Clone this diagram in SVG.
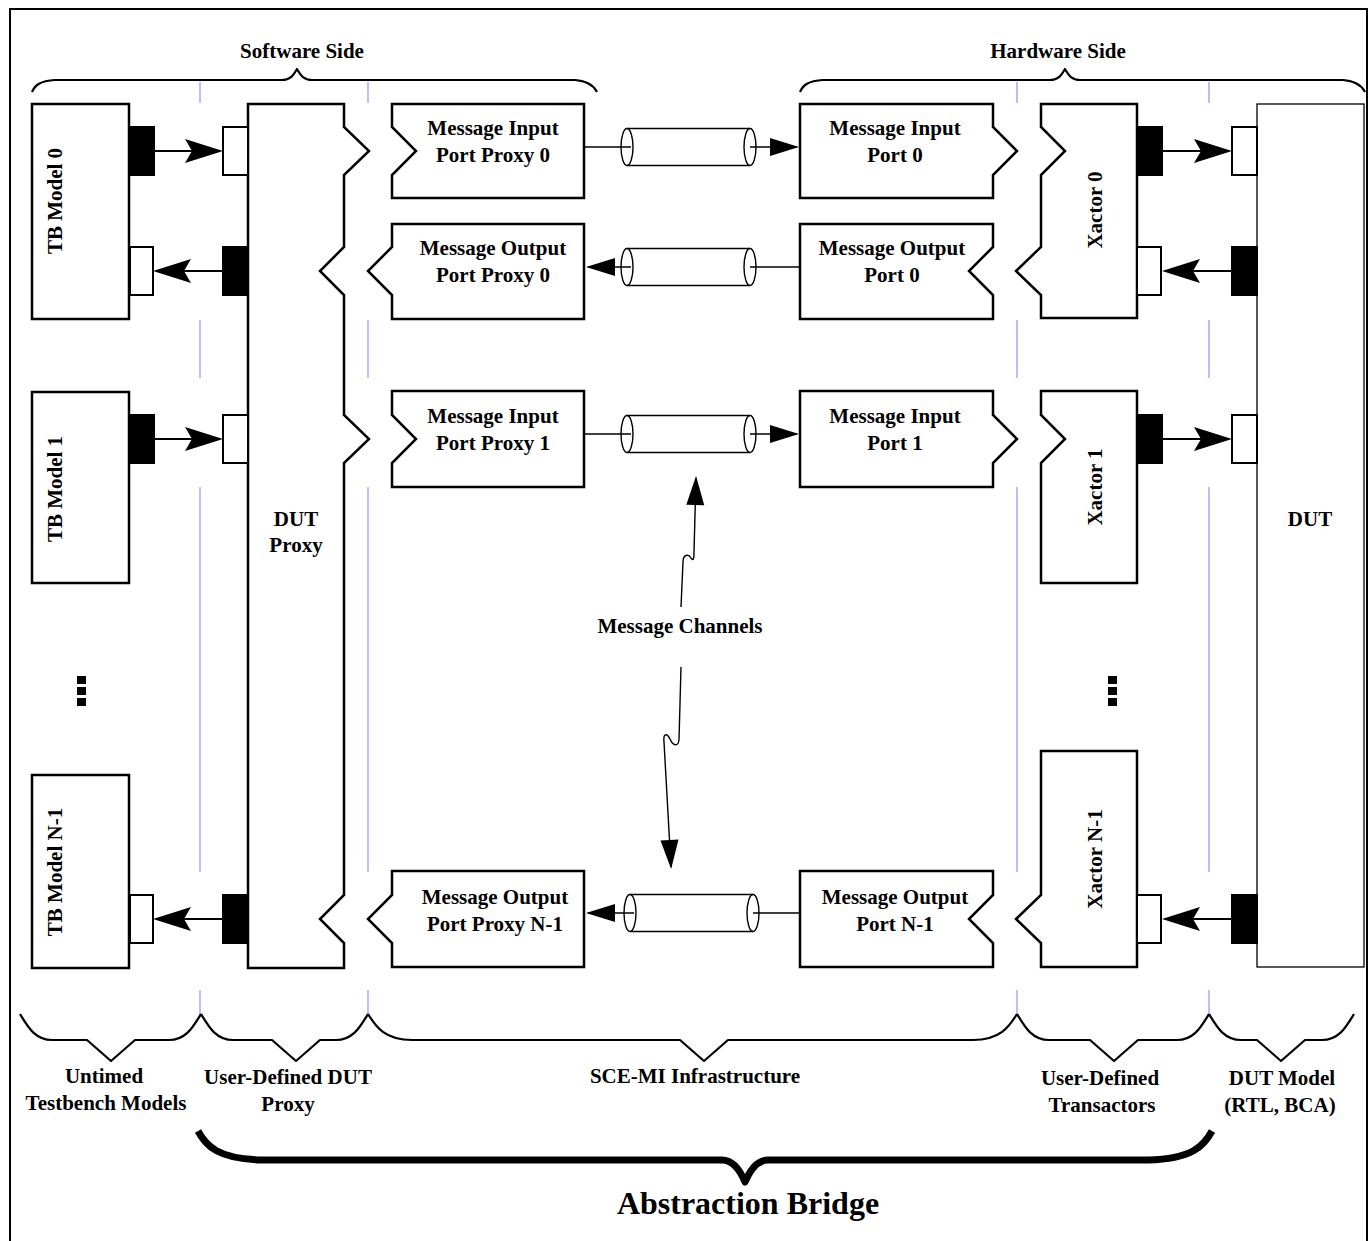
<svg xmlns="http://www.w3.org/2000/svg" width="1370" height="1241" viewBox="0 0 1370 1241">
  <style>
    .frame { fill: none; stroke: #000; stroke-width: 2; }
    .box { fill: #fff; stroke: #000; stroke-width: 2.5; }
    .thin { fill: #fff; stroke: #000; stroke-width: 1.3; }
    .pin { fill: #fff; stroke: #000; stroke-width: 2; }
    .pout { fill: #000; stroke: #000; stroke-width: 2; }
    .wire { fill: none; stroke: #000; stroke-width: 2; }
    .chan { fill: none; stroke: #000; stroke-width: 1.4; }
    .sep { stroke: #7b7bff; stroke-width: 1; }
    .brace { fill: none; stroke: #000; stroke-width: 2.2; stroke-linejoin: round; }
    .bigbrace { fill: none; stroke: #000; stroke-width: 7; stroke-linejoin: round; }
    .dot { fill: #000; }
    text { font-family: "Liberation Serif", "Times New Roman", serif; font-weight: bold; font-size: 21px; fill: #000; text-anchor: middle; }
    .title { font-size: 32px; }
  </style>
  <defs>
    <marker id="bigArrow" markerUnits="userSpaceOnUse" viewBox="-36 -13 42 26" refX="0" refY="0" markerWidth="42" markerHeight="26" orient="auto">
      <path d="M4,0 L-34,-12 L-27,0 L-34,12 Z" fill="#000"/>
    </marker>
    <marker id="smallArrow" markerUnits="userSpaceOnUse" viewBox="-28 -10 32 20" refX="0" refY="0" markerWidth="32" markerHeight="20" orient="auto">
      <path d="M2,0 L-27,-9 L-27,9 Z" fill="#000"/>
    </marker>
    <g id="cyl">
      <line x1="0" y1="-18.5" x2="123" y2="-18.5" class="chan"/>
      <line x1="0" y1="18.5" x2="123" y2="18.5" class="chan"/>
      <ellipse cx="0" cy="0" rx="6" ry="18.5" class="chan"/>
      <ellipse cx="123" cy="0" rx="6" ry="18.5" class="chan"/>
    </g>
  </defs>

  <rect class="frame" x="10" y="9" width="1357" height="1245"/>

  <!-- layer separators -->
  <g id="separators">
    <line class="sep" x1="200" y1="82" x2="200" y2="103"/>
    <line class="sep" x1="200" y1="320" x2="200" y2="378"/>
    <line class="sep" x1="200" y1="487" x2="200" y2="872"/>
    <line class="sep" x1="200" y1="990" x2="200" y2="1015"/>
    <line class="sep" x1="368" y1="82" x2="368" y2="103"/>
    <line class="sep" x1="368" y1="320" x2="368" y2="378"/>
    <line class="sep" x1="368" y1="487" x2="368" y2="872"/>
    <line class="sep" x1="368" y1="990" x2="368" y2="1015"/>
    <line class="sep" x1="1017" y1="82" x2="1017" y2="103"/>
    <line class="sep" x1="1017" y1="320" x2="1017" y2="378"/>
    <line class="sep" x1="1017" y1="487" x2="1017" y2="872"/>
    <line class="sep" x1="1017" y1="990" x2="1017" y2="1015"/>
    <line class="sep" x1="1209" y1="82" x2="1209" y2="103"/>
    <line class="sep" x1="1209" y1="320" x2="1209" y2="378"/>
    <line class="sep" x1="1209" y1="487" x2="1209" y2="872"/>
    <line class="sep" x1="1209" y1="990" x2="1209" y2="1015"/>
  </g>

  <!-- side braces -->
  <g id="top-braces">
    <path class="brace" d="M32,92 C35,85 40,81 55,80 L282,80 C290,80 293,76 297,69 C301,76 304,80 312,80 L575,80 C588,81 594,86 597,92"/>
    <text x="302" y="58">Software Side</text>
    <path class="brace" d="M800,92 C803,85 808,81 823,80 L1050,80 C1058,80 1061,76 1065,69 C1069,76 1072,80 1080,80 L1343,80 C1356,81 1362,86 1365,92"/>
    <text x="1058" y="58">Hardware Side</text>
  </g>

  <!-- layer braces -->
  <g id="bottom-braces">
    <path class="brace" d="M20,1014 C28,1027 35,1040 52,1040 L87,1040 L111,1061 L135,1040 L169,1040 C186,1040 193,1027 201,1014"/>
    <path class="brace" d="M201,1014 C209,1027 216,1040 233,1040 L272,1040 L296,1061 L320,1040 L336,1040 C353,1040 360,1027 368,1014"/>
    <path class="brace" d="M368,1014 C376,1027 385,1040 412,1040 L680,1040 L704,1061 L728,1040 L973,1040 C1000,1040 1009,1027 1017,1014"/>
    <path class="brace" d="M1017,1014 C1025,1027 1032,1040 1049,1040 L1090,1040 L1114,1061 L1138,1040 L1177,1040 C1194,1040 1201,1027 1209,1014"/>
    <path class="brace" d="M1209,1014 C1217,1027 1224,1040 1241,1040 L1257,1040 L1281,1061 L1305,1040 L1322,1040 C1339,1040 1346,1027 1354,1014"/>
    <text x="104" y="1083">Untimed</text>
    <text x="106" y="1110">Testbench Models</text>
    <text x="288" y="1084">User-Defined DUT</text>
    <text x="288" y="1111">Proxy</text>
    <text x="695" y="1083">SCE-MI Infrastructure</text>
    <text x="1100" y="1085">User-Defined</text>
    <text x="1102" y="1112">Transactors</text>
    <text x="1282" y="1085">DUT Model</text>
    <text x="1280" y="1112">(RTL, BCA)</text>
    <path class="bigbrace" d="M198,1131 C206,1146 218,1159 262,1160 L722,1160 C732,1160 740,1170 745,1182 C750,1170 758,1160 768,1160 L1148,1160 C1192,1159 1204,1146 1212,1131"/>
    <text class="title" x="748" y="1214">Abstraction Bridge</text>
  </g>

  <!-- testbench models -->
  <g id="tb-model-0">
    <rect class="box" x="32" y="104" width="97" height="215"/>
    <rect class="pout" x="130" y="127" width="24" height="48"/>
    <rect class="pin" x="130" y="247" width="23" height="48"/>
    <text transform="translate(62,201) rotate(-90)">TB Model 0</text>
  </g>
  <g id="tb-model-1">
    <rect class="box" x="32" y="392" width="97" height="191"/>
    <rect class="pout" x="130" y="415" width="24" height="48"/>
    <text transform="translate(62,489) rotate(-90)">TB Model 1</text>
  </g>
  <g id="tb-ellipsis">
    <rect class="dot" x="77" y="676" width="9" height="8"/>
    <rect class="dot" x="77" y="687" width="9" height="8"/>
    <rect class="dot" x="77" y="698" width="9" height="8"/>
  </g>
  <g id="tb-model-n1">
    <rect class="box" x="32" y="775" width="97" height="193"/>
    <rect class="pin" x="130" y="895" width="23" height="48"/>
    <text transform="translate(62,872) rotate(-90)">TB Model N-1</text>
  </g>

  <!-- DUT proxy -->
  <g id="dut-proxy">
    <path class="box" d="M248,104 L344,104 L344,127 L369,151 L344,175 L344,247 L320,271 L344,295 L344,415 L369,439 L344,463 L344,895 L320,919 L344,943 L344,968 L248,968 Z"/>
    <rect class="pin" x="223" y="127" width="25" height="48"/>
    <rect class="pout" x="223" y="247" width="25" height="48"/>
    <rect class="pin" x="223" y="415" width="25" height="48"/>
    <rect class="pout" x="223" y="895" width="25" height="48"/>
    <text x="296" y="526">DUT</text>
    <text x="296" y="552">Proxy</text>
  </g>

  <!-- software-side message port proxies -->
  <g id="msg-in-proxy-0">
    <path class="box" d="M392,104 L584,104 L584,198 L392,198 L392,175 L416,151 L392,127 Z"/>
    <text x="493" y="135">Message Input</text>
    <text x="493" y="162">Port Proxy 0</text>
  </g>
  <g id="msg-out-proxy-0">
    <path class="box" d="M392,224 L584,224 L584,319 L392,319 L392,295 L368,271 L392,247 Z"/>
    <text x="493" y="255">Message Output</text>
    <text x="493" y="282">Port Proxy 0</text>
  </g>
  <g id="msg-in-proxy-1">
    <path class="box" d="M392,391 L584,391 L584,487 L392,487 L392,463 L416,439 L392,415 Z"/>
    <text x="493" y="423">Message Input</text>
    <text x="493" y="450">Port Proxy 1</text>
  </g>
  <g id="msg-out-proxy-n1">
    <path class="box" d="M392,871 L584,871 L584,967 L392,967 L392,943 L368,919 L392,895 Z"/>
    <text x="495" y="904">Message Output</text>
    <text x="495" y="931">Port Proxy N-1</text>
  </g>

  <!-- hardware-side message ports -->
  <g id="msg-in-port-0">
    <path class="box" d="M800,104 L993,104 L993,127 L1017,151 L993,175 L993,198 L800,198 Z"/>
    <text x="895" y="135">Message Input</text>
    <text x="895" y="162">Port 0</text>
  </g>
  <g id="msg-out-port-0">
    <path class="box" d="M800,224 L993,224 L993,247 L969,271 L993,295 L993,319 L800,319 Z"/>
    <text x="892" y="255">Message Output</text>
    <text x="892" y="282">Port 0</text>
  </g>
  <g id="msg-in-port-1">
    <path class="box" d="M800,391 L993,391 L993,415 L1017,439 L993,463 L993,487 L800,487 Z"/>
    <text x="895" y="423">Message Input</text>
    <text x="895" y="450">Port 1</text>
  </g>
  <g id="msg-out-port-n1">
    <path class="box" d="M800,871 L993,871 L993,895 L969,919 L993,943 L993,967 L800,967 Z"/>
    <text x="895" y="904">Message Output</text>
    <text x="895" y="931">Port N-1</text>
  </g>

  <!-- transactors -->
  <g id="xactor-0">
    <path class="box" d="M1041,104 L1137,104 L1137,318 L1041,318 L1041,295 L1016,271 L1041,247 L1041,175 L1065,151 L1041,127 Z"/>
    <rect class="pout" x="1137" y="127" width="25" height="48"/>
    <rect class="pin" x="1137" y="247" width="24" height="48"/>
    <text transform="translate(1102,210) rotate(-90)">Xactor 0</text>
  </g>
  <g id="xactor-1">
    <path class="box" d="M1041,391 L1137,391 L1137,583 L1041,583 L1041,463 L1065,439 L1041,415 Z"/>
    <rect class="pout" x="1137" y="415" width="25" height="48"/>
    <text transform="translate(1102,487) rotate(-90)">Xactor 1</text>
  </g>
  <g id="xactor-ellipsis">
    <rect class="dot" x="1108" y="676" width="9" height="8"/>
    <rect class="dot" x="1108" y="687" width="9" height="8"/>
    <rect class="dot" x="1108" y="698" width="9" height="8"/>
  </g>
  <g id="xactor-n1">
    <path class="box" d="M1041,751 L1137,751 L1137,967 L1041,967 L1041,943 L1016,919 L1041,895 Z"/>
    <rect class="pin" x="1137" y="895" width="24" height="48"/>
    <text transform="translate(1102,859) rotate(-90)">Xactor N-1</text>
  </g>

  <!-- design under test -->
  <g id="dut">
    <rect class="thin" x="1257" y="104" width="107" height="863"/>
    <rect class="pin" x="1232" y="127" width="25" height="48"/>
    <rect class="pout" x="1232" y="247" width="25" height="48"/>
    <rect class="pin" x="1232" y="415" width="25" height="48"/>
    <rect class="pout" x="1232" y="895" width="25" height="48"/>
    <text x="1310" y="526">DUT</text>
  </g>

  <!-- connectors and message channels -->
  <g id="connectors">
    <line class="wire" x1="154" y1="151" x2="219" y2="151" marker-end="url(#bigArrow)"/>
    <line class="wire" x1="223" y1="271" x2="157" y2="271" marker-end="url(#bigArrow)"/>
    <line class="wire" x1="154" y1="439" x2="219" y2="439" marker-end="url(#bigArrow)"/>
    <line class="wire" x1="223" y1="919" x2="157" y2="919" marker-end="url(#bigArrow)"/>
    <line class="wire" x1="1162" y1="151" x2="1228" y2="151" marker-end="url(#bigArrow)"/>
    <line class="wire" x1="1232" y1="271" x2="1166" y2="271" marker-end="url(#bigArrow)"/>
    <line class="wire" x1="1162" y1="439" x2="1228" y2="439" marker-end="url(#bigArrow)"/>
    <line class="wire" x1="1232" y1="919" x2="1166" y2="919" marker-end="url(#bigArrow)"/>

    <use href="#cyl" x="627" y="147"/>
    <line class="chan" x1="585" y1="147" x2="631" y2="147"/>
    <line class="chan" x1="750" y1="147" x2="797" y2="147" marker-end="url(#smallArrow)"/>

    <use href="#cyl" x="627" y="267"/>
    <line class="chan" x1="799" y1="267" x2="750" y2="267"/>
    <line class="chan" x1="631" y1="267" x2="588" y2="267" marker-end="url(#smallArrow)"/>

    <use href="#cyl" x="627" y="434"/>
    <line class="chan" x1="585" y1="434" x2="631" y2="434"/>
    <line class="chan" x1="750" y1="434" x2="797" y2="434" marker-end="url(#smallArrow)"/>

    <use href="#cyl" x="630" y="913"/>
    <line class="chan" x1="799" y1="913" x2="753" y2="913"/>
    <line class="chan" x1="634" y1="913" x2="588" y2="913" marker-end="url(#smallArrow)"/>

    <path class="chan" d="M681,607 L683,562 C683,555 688,553 691,558 C693,561 694,560 694,552 L696,478" marker-end="url(#smallArrow)"/>
    <path class="chan" d="M681,667 L679,740 C678,747 673,746 670,739 C667,733 663,733 664,742 L671,867" marker-end="url(#smallArrow)"/>
    <text x="680" y="633">Message Channels</text>
  </g>
</svg>
